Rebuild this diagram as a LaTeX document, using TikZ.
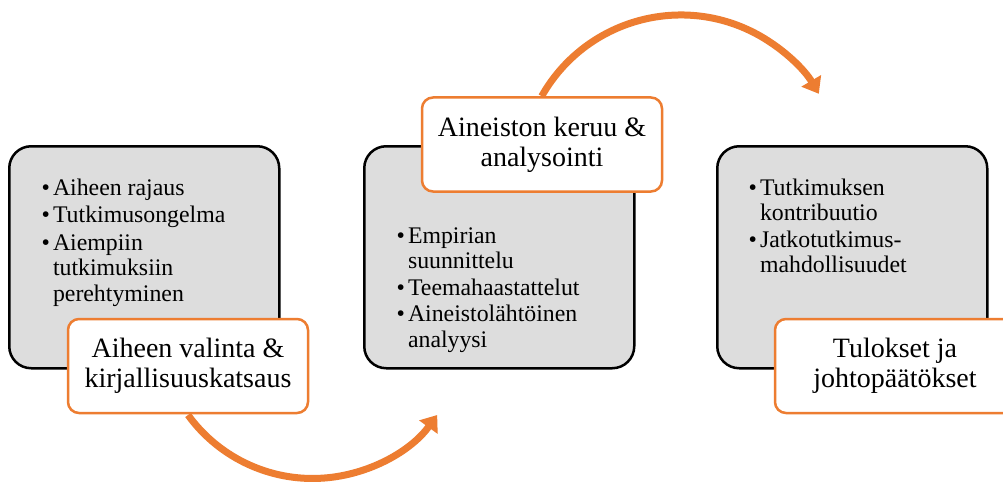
\documentclass[tikz,border=0pt]{standalone}
\usepackage{fontspec}
\setmainfont{Liberation Serif}
\usetikzlibrary{arrows.meta}
\definecolor{accent}{HTML}{ED7D31}
\definecolor{panel}{HTML}{DDDDDD}
\tikzset{
  panelbox/.style={draw=black, line width=2.5pt, fill=panel, rounded corners=22pt,
    minimum width=270pt, minimum height=222pt, inner sep=0pt, anchor=north west},
  titlebox/.style={draw=accent, line width=2.5pt, fill=white, rounded corners=11pt,
    minimum width=240pt, minimum height=94pt, align=center, inner sep=0pt,
    font=\fontsize{28}{30}\selectfont},
  listtext/.style={anchor=north west, inner sep=0pt,
    font=\fontsize{23.8}{25.5}\selectfont},
  flow/.style={draw=accent, line width=7pt, -{Triangle[width=22pt,length=15pt]}},
}
\newcommand{\bulletlist}[1]{\begin{tabular}{@{}l@{\hspace{3pt}}l@{}}#1\end{tabular}}

\begin{document}
\begin{tikzpicture}[x=1pt, y=1pt]
  \clip (0,0) rectangle (1003,483);
  \fill[white] (0,0) rectangle (1003,483);

  % curved arrows between the stages
  \coordinate (lowstart) at (188,68);
  \coordinate (highstart) at (541.7,386.8);
  \draw[flow] (lowstart) arc[start angle=216, end angle=324, radius=154];
  \draw[flow] (highstart) arc[start angle=150.5, end angle=30.5, radius=160];

  % grey panels
  \node[panelbox] (p1) at (8,338) {};
  \node[panelbox] (p2) at (363,338) {};
  \node[panelbox] (p3) at (716,338) {};

  % panel contents
  \node[listtext] (l1) at (41.5,305.85) {\bulletlist{%
    \textbullet & Aiheen rajaus\\[2pt]
    \textbullet & Tutkimusongelma\\[2pt]
    \textbullet & Aiempiin\\
                & tutkimuksiin\\
                & perehtyminen}};
  \node[listtext] (l2) at (396.5,257.9) {\bulletlist{%
    \textbullet & Empirian\\
                & suunnittelu\\[1pt]
    \textbullet & Teemahaastattelut\\[1pt]
    \textbullet & Aineistolähtöinen\\
                & analyysi}};
  \node[listtext] (l3) at (748.5,305.85) {\bulletlist{%
    \textbullet & Tutkimuksen\\
                & kontribuutio\\[1pt]
    \textbullet & Jatkotutkimus-\\
                & mahdollisuudet}};

  % stage titles
  \node[titlebox] (t1) at (188,117) {Aiheen valinta \&\\kirjallisuuskatsaus};
  \node[titlebox] (t2) at (542,338.5) {Aineiston keruu \&\\analysointi};
  \node[titlebox] (t3) at (895,117) {Tulokset ja\\johtopäätökset};
\end{tikzpicture}
\end{document}
